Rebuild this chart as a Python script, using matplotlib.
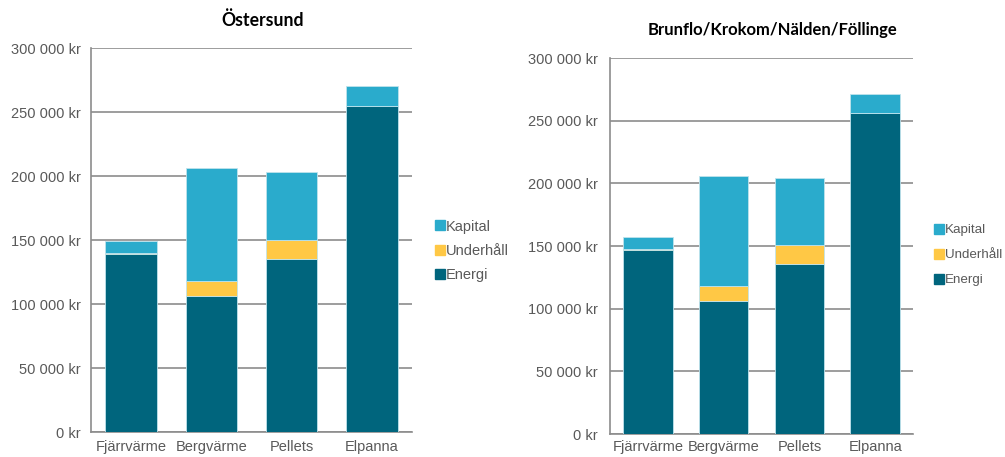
import matplotlib.pyplot as plt
from matplotlib.ticker import FuncFormatter
from matplotlib.lines import Line2D

plt.rcParams['font.family'] = ['Liberation Sans', 'DejaVu Sans']

categories = ['Fjärrvärme', 'Bergvärme', 'Pellets', 'Elpanna']

# Östersund
energi_ost = [139000, 106000, 135000, 255000]
underhall_ost = [1000, 12000, 15000, 0]
kapital_ost = [9000, 88000, 53000, 15000]

# Brunflo/Krokom/Nälden/Föllinge
energi_bkn = [147000, 106000, 136000, 256000]
underhall_bkn = [1000, 12000, 15000, 0]
kapital_bkn = [9000, 88000, 53000, 15000]

c_energi = '#00657D'
c_underhall = '#FFC845'
c_kapital = '#2AABCC'
grey = '#595959'
grid_c = '#8C8C8C'

W, H = 1005, 457


def kr(v, pos):
    if v == 0:
        return '0 kr'
    return '{:,.0f} kr'.format(v).replace(',', ' ')


def draw(ax, energi, underhall, kapital, title, width, title_size, ypad, xpad,
         leg_xy, leg_size, leg_space, title_dx):
    x = range(len(categories))
    bot2 = [e + u for e, u in zip(energi, underhall)]
    ax.bar(x, energi, width, color=c_energi, edgecolor='#BFE3EC', linewidth=0.6, zorder=3)
    ax.bar(x, underhall, width, bottom=energi, color=c_underhall, edgecolor='#BFE3EC', linewidth=0.6, zorder=3)
    ax.bar(x, kapital, width, bottom=bot2, color=c_kapital, edgecolor='#BFE3EC', linewidth=0.6, zorder=3)
    ax.set_ylim(0, 300000)
    ax.set_xlim(-0.5, len(categories) - 0.5)
    ax.set_yticks(range(0, 300001, 50000))
    ax.yaxis.set_major_formatter(FuncFormatter(kr))
    ax.set_xticks(list(x))
    ax.set_xticklabels(categories)
    ax.tick_params(axis='both', length=0, colors=grey, labelsize=10.5)
    ax.tick_params(axis='x', pad=xpad)
    ax.tick_params(axis='y', pad=ypad)
    ax.grid(axis='y', color=grid_c, linewidth=1.2, zorder=0)
    for s in ['top', 'right']:
        ax.spines[s].set_visible(False)
    for s in ['left', 'bottom']:
        ax.spines[s].set_color(grid_c)
        ax.spines[s].set_linewidth(1.2)
    # title sits 28 px above the plot area
    h_px = ax.get_position().height * H
    w_px = ax.get_position().width * W
    ax.text(0.5 + title_dx / w_px, 1 + 28 / h_px, title, transform=ax.transAxes,
            ha='center', va='center', fontsize=title_size, fontweight='bold',
            family=['Lato', 'DejaVu Sans'])
    handles = [Line2D([], [], marker='s', linestyle='', color=c, markersize=6.5)
               for c in [c_kapital, c_underhall, c_energi]]
    fig.legend(handles, ['Kapital', 'Underhåll', 'Energi'], loc='center left',
               bbox_to_anchor=(leg_xy[0] / W, 1 - leg_xy[1] / H),
               bbox_transform=fig.transFigure, frameon=False, fontsize=leg_size,
               labelcolor=grey, handletextpad=0.2, handlelength=0.5,
               labelspacing=leg_space, borderaxespad=0, borderpad=0)


fig = plt.figure(figsize=(W / 100, H / 100), dpi=100)
ax1 = fig.add_axes([91 / W, 1 - 432 / H, 321 / W, 384 / H])
ax2 = fig.add_axes([610 / W, 1 - 434 / H, 303 / W, 376 / H])

draw(ax1, energi_ost, underhall_ost, kapital_ost, 'Östersund', 0.64, 12.7, 7.5, 5.5,
     (436, 251), 10.5, 0.72, 11)
draw(ax2, energi_bkn, underhall_bkn, kapital_bkn, 'Brunflo/Krokom/Nälden/Föllinge', 0.655, 12.0, 9, 4,
     (936, 255), 9.6, 0.95, 11)

fig.savefig('out.png', dpi=100)
